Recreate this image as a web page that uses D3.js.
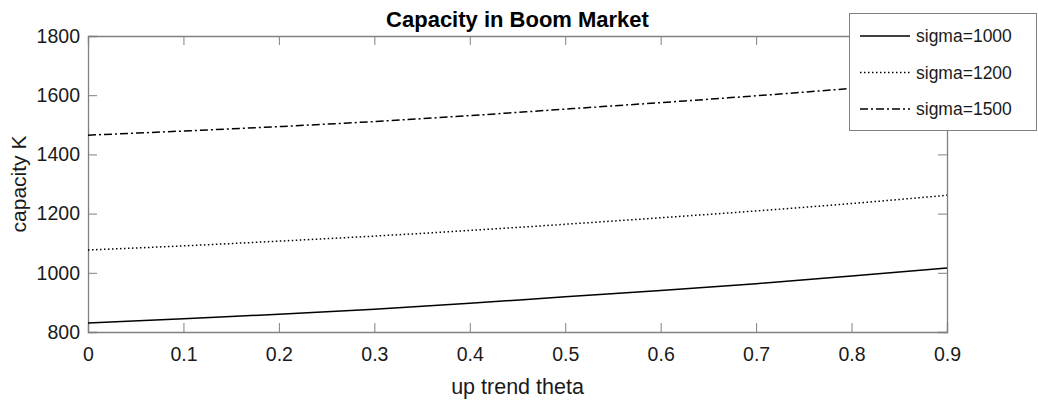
<!DOCTYPE html>
<html>
<head>
<meta charset="utf-8">
<script src="https://cdn.jsdelivr.net/npm/d3@7"></script>
<style>
  body { margin: 0; background: #fff; }
  svg text { font-family: "Liberation Sans", Arial, sans-serif; }
</style>
</head>
<body>
<svg width="1038" height="400"></svg>
<script>
// data
var theta = [0, 0.1, 0.2, 0.3, 0.4, 0.5, 0.6, 0.7, 0.8, 0.9];
var sigma1000 = [830, 845, 860, 877, 897, 919, 940, 963, 989, 1016];
var sigma1200 = [1077, 1091, 1107, 1124, 1143, 1164, 1186, 1209, 1234, 1262];
var sigma1500 = [1465, 1479, 1494, 1511, 1531, 1553, 1575, 1598, 1623, 1651];
var seriesNames = ["sigma=1000", "sigma=1200", "sigma=1500"];
var xTicks = [0, 0.1, 0.2, 0.3, 0.4, 0.5, 0.6, 0.7, 0.8, 0.9];
var yTicks = [800, 1000, 1200, 1400, 1600, 1800];

(function () {
  var svg = d3.select("svg"),
    left = 88, right = 947, top = 36, bottom = 332;

  var x = d3.scaleLinear().domain([0, 0.9]).range([left, right]);
  var y = d3.scaleLinear().domain([800, 1800]).range([bottom, top]);

  var axisColor = "#808080", textColor = "#1a1a1a";

  var series = [
    { name: seriesNames[0], values: sigma1000, dash: null },
    { name: seriesNames[1], values: sigma1200, dash: "1.5,2.5" },
    { name: seriesNames[2], values: sigma1500, dash: "8,3,2,3" }
  ];

  // box + ticks on all four sides (matlab style)
  function styleAxis(g) {
    g.select(".domain").attr("stroke", axisColor).attr("stroke-width", 1.3);
    g.selectAll(".tick line").attr("stroke", axisColor);
    g.selectAll(".tick text")
      .attr("fill", textColor)
      .style("font-size", "19.5px");
  }

  svg.append("g")
    .attr("transform", "translate(0," + bottom + ")")
    .call(d3.axisBottom(x).tickValues(xTicks).tickSize(-9).tickPadding(15)
      .tickFormat(function (d) { return d === 0 ? "0" : d3.format(".1f")(d); }))
    .call(styleAxis);

  svg.append("g")
    .attr("transform", "translate(0," + top + ")")
    .call(d3.axisTop(x).tickValues(xTicks).tickSize(-9).tickFormat(""))
    .call(styleAxis);

  svg.append("g")
    .attr("transform", "translate(" + left + ",0)")
    .call(d3.axisLeft(y).tickValues(yTicks).tickSize(-9).tickPadding(8)
      .tickFormat(d3.format("d")))
    .call(styleAxis);

  svg.append("g")
    .attr("transform", "translate(" + right + ",0)")
    .call(d3.axisRight(y).tickValues(yTicks).tickSize(-9).tickFormat(""))
    .call(styleAxis);

  var line = d3.line()
    .x(function (d, i) { return x(theta[i]); })
    .y(function (d) { return y(d); })
    .curve(d3.curveMonotoneX);

  svg.append("g").selectAll("path")
    .data(series)
    .enter().append("path")
    .attr("d", function (d) { return line(d.values); })
    .attr("fill", "none")
    .attr("stroke", "#000")
    .attr("stroke-width", 1.5)
    .attr("stroke-dasharray", function (d) { return d.dash; });

  // title and axis labels
  svg.append("text")
    .attr("x", (left + right) / 2).attr("y", 27)
    .attr("text-anchor", "middle")
    .style("font-size", "22px").style("font-weight", "bold")
    .text("Capacity in Boom Market");

  svg.append("text")
    .attr("x", (left + right) / 2).attr("y", 394)
    .attr("text-anchor", "middle")
    .attr("fill", textColor)
    .style("font-size", "21.5px")
    .text("up trend theta");

  svg.append("text")
    .attr("transform", "translate(26," + (top + bottom) / 2 + ") rotate(-90)")
    .attr("text-anchor", "middle")
    .attr("fill", textColor)
    .style("font-size", "21px")
    .text("capacity K");

  // legend
  var legend = svg.append("g");
  legend.append("rect")
    .attr("x", 849.5).attr("y", 13.5)
    .attr("width", 187).attr("height", 117)
    .attr("fill", "#fff").attr("stroke", axisColor);

  var item = legend.selectAll("g.item")
    .data(series)
    .enter().append("g")
    .attr("class", "item")
    .attr("transform", function (d, i) { return "translate(0," + (36 + i * 36.5) + ")"; });

  item.append("line")
    .attr("x1", 860).attr("x2", 910)
    .attr("stroke", "#000").attr("stroke-width", 1.5)
    .attr("stroke-dasharray", function (d) { return d.dash; });

  item.append("text")
    .attr("x", 916).attr("dy", "0.35em")
    .attr("fill", textColor)
    .style("font-size", "17.5px")
    .text(function (d) { return d.name; });
})();
</script>
</body>
</html>
